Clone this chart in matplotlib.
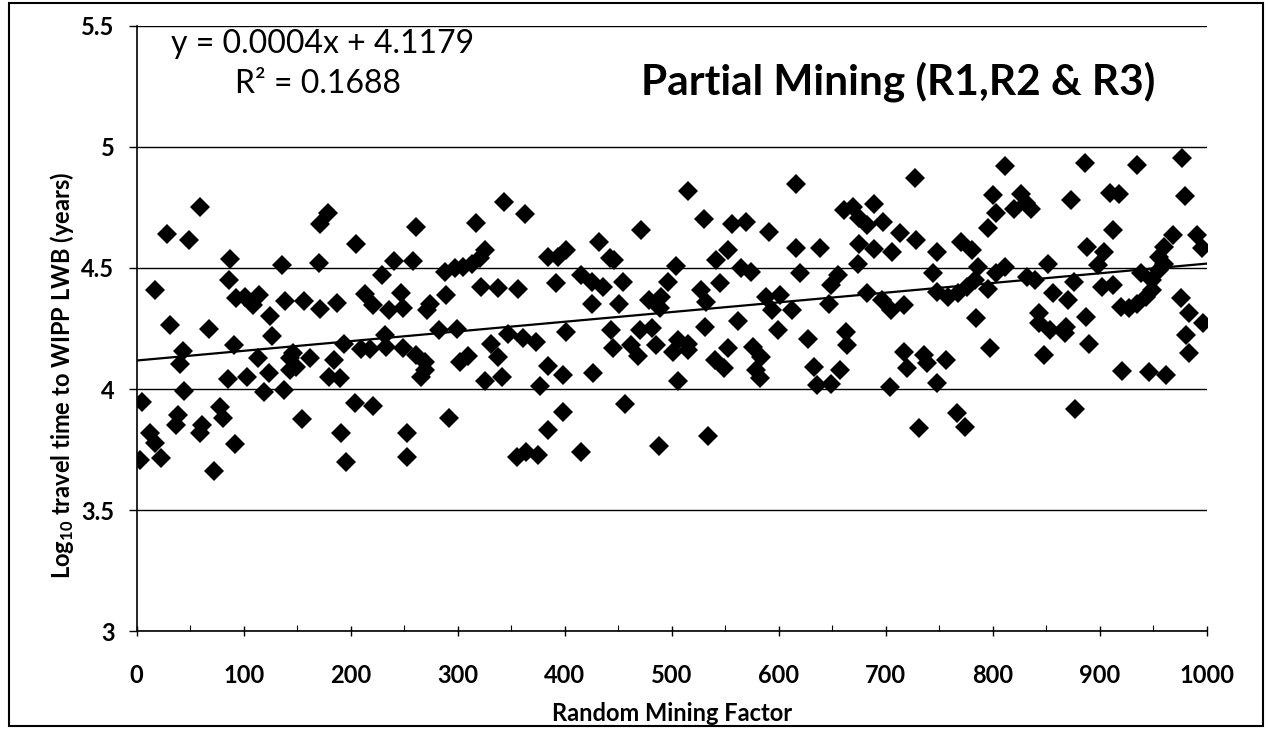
import numpy as np
import matplotlib
matplotlib.use("Agg")
import matplotlib.pyplot as plt
from matplotlib.patches import Rectangle
from matplotlib.ticker import MultipleLocator, FuncFormatter

plt.rcParams['font.family'] = ['Lato', 'DejaVu Sans']
plt.rcParams['font.weight'] = 'bold'
plt.rcParams['axes.labelweight'] = 'bold'
plt.rcParams['mathtext.default'] = 'regular'

# values
mining_factor = [
    59, 28, 49, 179, 171, 205, 87, 136, 170, 86, 17, 93, 101, 114, 109, 139, 156, 171, 187, 125,
    31, 68, 126, 194, 43, 91, 40, 113, 146, 143, 149, 162, 143, 184, 180, 190, 85, 103, 124, 44,
    119, 138, 5, 39, 37, 78, 81, 61, 59, 154, 12, 17, 23, 3, 92, 191, 196, 72,
    343, 363, 317, 261, 325, 321, 313, 305, 297, 288, 240, 258, 229, 384, 394, 401, 392, 322, 338, 356,
    213, 221, 247, 249, 236, 289, 274, 271, 282, 299, 232, 233, 210, 218, 249, 261, 269, 269, 266, 347,
    361, 373, 331, 338, 302, 310, 325, 341, 384, 398, 377, 204, 221, 292, 253, 253, 384, 398, 355, 364, 375,
    515, 530, 556, 569, 591, 471, 432, 552, 541, 442, 446, 504, 565, 574, 415, 425, 436, 454, 496, 545,
    527, 532, 425, 451, 479, 490, 489, 588, 601, 594, 401, 443, 445, 470, 481, 462, 468, 485, 506, 515,
    501, 515, 531, 562, 552, 540, 549, 576, 583, 579, 582, 599, 426, 506, 456, 415, 488, 534,
    616, 727, 661, 669, 675, 682, 689, 697, 713, 728, 800, 803, 795, 616, 638, 675, 689, 706, 674, 748,
    770, 780, 786, 620, 655, 649, 744, 612, 647, 682, 696, 705, 717, 748, 758, 767, 776, 783, 795, 627,
    663, 664, 784, 633, 636, 649, 657, 704, 717, 720, 736, 738, 756, 748, 797, 731, 766, 774,
    811, 886, 935, 977, 979, 873, 909, 918, 826, 831, 820, 836, 912, 888, 904, 968, 960, 955, 991, 995,
    811, 803, 832, 839, 851, 898, 876, 902, 912, 938, 949, 955, 960, 920, 927, 935, 943, 949, 856, 870,
    843, 843, 853, 867, 868, 887, 890, 848, 976, 983, 996, 980, 983, 921, 946, 962, 877,
]
log_time = [
    4.75, 4.64, 4.615, 4.727, 4.683, 4.60, 4.535, 4.512, 4.52, 4.45, 4.408, 4.374, 4.381, 4.388, 4.347, 4.364, 4.364, 4.329, 4.356, 4.303,
    4.264, 4.246, 4.219, 4.188, 4.158, 4.181, 4.103, 4.127, 4.147, 4.127, 4.092, 4.127, 4.078, 4.12, 4.051, 4.044, 4.04, 4.051, 4.067, 3.993,
    3.986, 3.996, 3.948, 3.893, 3.851, 3.927, 3.879, 3.851, 3.817, 3.875, 3.817, 3.776, 3.714, 3.707, 3.773, 3.817, 3.70, 3.66,
    4.77, 4.722, 4.686, 4.667, 4.573, 4.539, 4.518, 4.505, 4.498, 4.484, 4.529, 4.529, 4.47, 4.543, 4.546, 4.573, 4.439, 4.422, 4.419, 4.415,
    4.392, 4.347, 4.395, 4.333, 4.326, 4.388, 4.353, 4.326, 4.243, 4.246, 4.223, 4.175, 4.164, 4.164, 4.168, 4.14, 4.113, 4.078, 4.051, 4.227,
    4.209, 4.195, 4.188, 4.133, 4.113, 4.136, 4.034, 4.048, 4.095, 4.058, 4.012, 3.941, 3.931, 3.879, 3.817, 3.718, 3.831, 3.906, 3.72, 3.741, 3.728,
    4.818, 4.701, 4.681, 4.69, 4.649, 4.656, 4.608, 4.573, 4.532, 4.539, 4.532, 4.507, 4.498, 4.484, 4.47, 4.443, 4.422, 4.443, 4.443, 4.436,
    4.408, 4.36, 4.353, 4.351, 4.367, 4.381, 4.333, 4.381, 4.388, 4.326, 4.237, 4.243, 4.168, 4.243, 4.253, 4.182, 4.136, 4.182, 4.202, 4.188,
    4.154, 4.161, 4.257, 4.282, 4.168, 4.122, 4.085, 4.175, 4.133, 4.078, 4.044, 4.243, 4.065, 4.034, 3.938, 3.741, 3.765, 3.806,
    4.848, 4.869, 4.738, 4.752, 4.704, 4.677, 4.763, 4.69, 4.642, 4.615, 4.8, 4.725, 4.663, 4.584, 4.584, 4.598, 4.58, 4.567, 4.518, 4.567,
    4.608, 4.573, 4.505, 4.48, 4.47, 4.429, 4.477, 4.326, 4.353, 4.395, 4.367, 4.326, 4.347, 4.401, 4.381, 4.395, 4.422, 4.45, 4.415, 4.205,
    4.237, 4.182, 4.292, 4.092, 4.017, 4.023, 4.078, 4.01, 4.154, 4.085, 4.14, 4.106, 4.12, 4.026, 4.168, 3.838, 3.902, 3.842,
    4.92, 4.934, 4.924, 4.952, 4.798, 4.782, 4.81, 4.807, 4.807, 4.766, 4.745, 4.745, 4.656, 4.587, 4.567, 4.635, 4.587, 4.546, 4.635, 4.584,
    4.505, 4.477, 4.463, 4.452, 4.516, 4.512, 4.443, 4.422, 4.429, 4.477, 4.45, 4.491, 4.518, 4.34, 4.333, 4.353, 4.381, 4.409, 4.395, 4.367,
    4.312, 4.271, 4.243, 4.23, 4.257, 4.298, 4.188, 4.14, 4.374, 4.312, 4.271, 4.223, 4.147, 4.076, 4.072, 4.058, 3.916,
]

# trendline as printed on the chart
slope = 0.0004
intercept = 4.1179
r_squared = 0.1688

fig = plt.figure(figsize=(12.68, 7.3), dpi=100)
ax = fig.add_axes([0.1078, 0.135, 0.8441, 0.830])

ax.plot(mining_factor, log_time, linestyle='none', marker='D', markersize=10,
        color='black', markeredgewidth=0, zorder=3)
trend_x = np.array([0, 1000])
ax.plot(trend_x, slope * trend_x + intercept, color='black', lw=1.6, zorder=4)

ax.set_xlim(0, 1000)
ax.set_ylim(3, 5.5)
ax.xaxis.set_major_locator(MultipleLocator(100))
ax.xaxis.set_minor_locator(MultipleLocator(50))
ax.yaxis.set_major_locator(MultipleLocator(0.5))
ax.yaxis.set_major_formatter(FuncFormatter(lambda v, p: f'{v:g}'))

ax.grid(axis='y', color='black', lw=1.0)
ax.set_axisbelow(True)
for side in ['top', 'right']:
    ax.spines[side].set_visible(False)
for side in ['left', 'bottom']:
    ax.spines[side].set_linewidth(1.2)

ax.tick_params(axis='x', which='major', direction='inout', length=7, width=1,
               pad=20, labelsize=17)
ax.tick_params(axis='x', which='minor', direction='in', length=4, width=0.8)
ax.tick_params(axis='y', direction='out', length=6, width=1, pad=10, labelsize=17)

ax.set_xlabel('Random Mining Factor', fontsize=17, fontweight='bold', va='center')
ax.xaxis.set_label_coords(0.5, -0.135)
ax.set_ylabel(r'Log$_{10}$ travel time to WIPP LWB (years)', fontsize=17,
              fontweight='bold', va='center', ha='center')
ax.yaxis.set_label_coords(-0.07, 0.423)

fig.text(323 / 1268, 1 - 53 / 730, f'y = {slope}x + {intercept}', fontsize=23,
         fontweight='normal', ha='center', va='baseline')
fig.text(318 / 1268, 1 - 93 / 730, f'R² = {r_squared}', fontsize=23,
         fontweight='normal', ha='center', va='baseline')
fig.text(898 / 1268, 1 - 95 / 730, 'Partial Mining (R1,R2 & R3)', fontsize=30.5,
         ha='center', va='baseline')

fig.patches.append(Rectangle((9 / 1268, 4 / 730), 1254 / 1268, 723 / 730, fill=False,
                             edgecolor='black', lw=1.5, transform=fig.transFigure))

fig.savefig('out.png', dpi=100)
